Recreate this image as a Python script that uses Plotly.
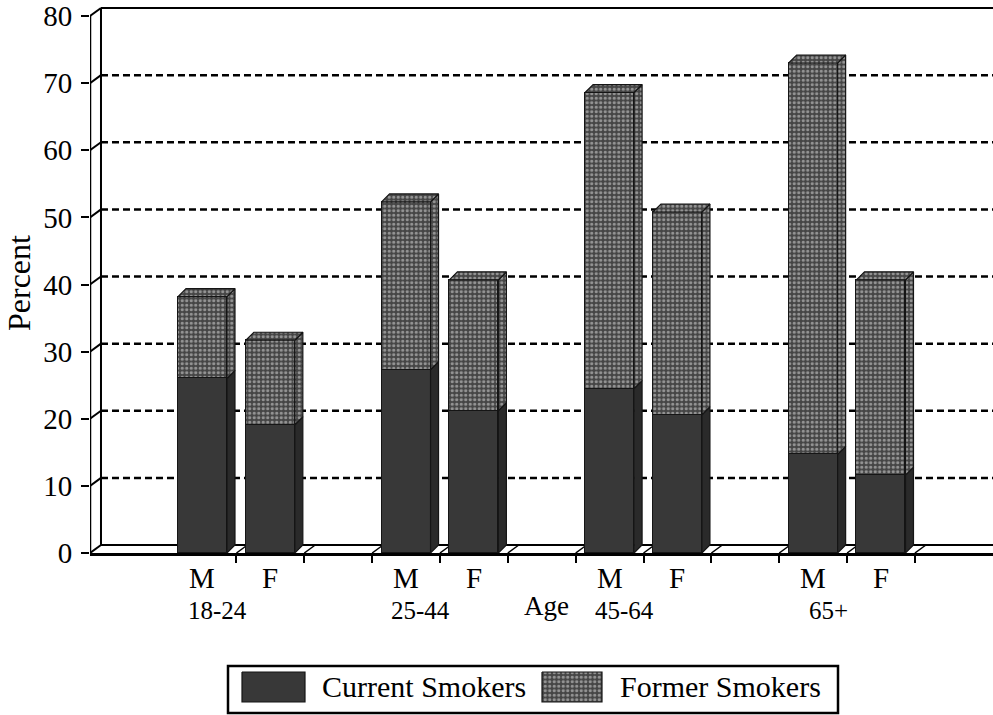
import plotly.graph_objects as go

# ---- data -------------------------------------------------------------
age_groups = ["18-24", "25-44", "45-64", "65+"]
sexes = ["M", "F"]
current_smokers = [26.0, 19.1, 27.3, 21.2, 24.5, 20.6, 14.7, 11.6]
former_smokers = [12.2, 12.6, 25.0, 19.5, 44.1, 30.2, 58.3, 29.1]
y_ticks = [0, 10, 20, 30, 40, 50, 60, 70, 80]
series_names = ["Current Smokers", "Former Smokers"]

# ---- geometry / style -------------------------------------------------
W, H = 993, 715
PX_L, PX_T, PX_B = 90, 6, 553          # plot area edges in pixels
SLOTS_PER_GROUP = 3                     # M, F, blank
X_RANGE = [-1.658, 11.651]
Y_RANGE = [0, 81.49]
BAR_W = 0.722
BAR_DX, BAR_DY = 0.118, 1.19            # bar depth (3-D offset)
WALL_DX, WALL_DY = 0.162, 1.19          # back wall offset
SERIF = "Liberation Serif"

CUR_COLOR = "#383838"
CUR_SIDE = "#2a2a2a"
FORM_BG = "#454545"
FORM_FG = "#e6e6e6"
EDGE = "#151515"
STIPPLE = dict(shape=".", fgcolor=FORM_FG, bgcolor=FORM_BG, size=4.5, solidity=0.4)

xpos = [SLOTS_PER_GROUP * g + s for g in range(len(age_groups)) for s in range(len(sexes))]
totals = [c + f for c, f in zip(current_smokers, former_smokers)]

fig = go.Figure()

# front faces of the stacked bars
fig.add_trace(go.Bar(
    x=xpos, y=current_smokers, width=BAR_W, name=series_names[0],
    marker=dict(color=CUR_COLOR, line=dict(color=EDGE, width=1.5)),
    showlegend=False, hoverinfo="skip"))
fig.add_trace(go.Bar(
    x=xpos, y=former_smokers, width=BAR_W, name=series_names[1],
    marker=dict(color=FORM_BG, line=dict(color=EDGE, width=1.5), pattern=STIPPLE),
    showlegend=False, hoverinfo="skip"))


def polys(quads):
    xs, ys = [], []
    for q in quads:
        for px, py in q + [q[0]]:
            xs.append(px)
            ys.append(py)
        xs.append(None)
        ys.append(None)
    return xs, ys


side_cur, side_form, tops = [], [], []
for x, c, t in zip(xpos, current_smokers, totals):
    xl, xr = x - BAR_W / 2, x + BAR_W / 2
    side_cur.append([(xr, 0), (xr + BAR_DX, BAR_DY), (xr + BAR_DX, c + BAR_DY), (xr, c)])
    side_form.append([(xr, c), (xr + BAR_DX, c + BAR_DY), (xr + BAR_DX, t + BAR_DY), (xr, t)])
    tops.append([(xl, t), (xl + BAR_DX, t + BAR_DY), (xr + BAR_DX, t + BAR_DY), (xr, t)])

sx, sy = polys(side_cur)
fig.add_trace(go.Scatter(x=sx, y=sy, mode="lines", fill="toself", fillcolor=CUR_SIDE,
                         line=dict(color=EDGE, width=1.2), showlegend=False, hoverinfo="skip"))
for quads in (side_form, tops):
    qx, qy = polys(quads)
    fig.add_trace(go.Scatter(
        x=qx, y=qy, mode="lines", fill="toself", fillcolor=FORM_BG, fillpattern=STIPPLE,
        line=dict(color=EDGE, width=1.2), showlegend=False, hoverinfo="skip"))

# ---- back wall, floor and gridlines ------------------------------------
x0, x1 = X_RANGE
shapes = []
line_k = dict(color="black", width=2)
wall_x = x0 + WALL_DX
top_v = y_ticks[-1]
shapes.append(dict(type="line", xref="x", yref="y", x0=x0, x1=x0, y0=0, y1=top_v,
                   line=dict(color="black", width=2.5), layer="below"))
shapes.append(dict(type="line", xref="x", yref="y", x0=wall_x, x1=wall_x,
                   y0=WALL_DY, y1=top_v + WALL_DY, line=line_k, layer="below"))
shapes.append(dict(type="line", xref="x", yref="y", x0=wall_x, x1=x1,
                   y0=top_v + WALL_DY, y1=top_v + WALL_DY, line=line_k, layer="below"))
shapes.append(dict(type="line", xref="x", yref="y", x0=wall_x, x1=x1,
                   y0=WALL_DY, y1=WALL_DY, line=line_k, layer="below"))
for v in y_ticks:
    shapes.append(dict(type="line", xref="x", yref="y", x0=x0, x1=wall_x,
                       y0=v, y1=v + WALL_DY, line=line_k, layer="below"))
for v in y_ticks[1:-1]:
    shapes.append(dict(type="line", xref="x", yref="y", x0=wall_x, x1=x1,
                       y0=v + WALL_DY, y1=v + WALL_DY,
                       line=dict(color="black", width=2.5, dash="7px,4px"), layer="below"))
x_ticks = [k + 0.5 for k in range(int(x1))]
for t in x_ticks:
    shapes.append(dict(type="line", xref="x", yref="y", x0=t, x1=t + WALL_DX,
                       y0=0, y1=WALL_DY, line=dict(color="black", width=1.5), layer="below"))

# legend frame
LEG = dict(l=228, r=838, t=666, b=713)
shapes.append(dict(type="rect", xref="paper", yref="paper",
                   x0=LEG["l"] / W, x1=LEG["r"] / W, y0=1 - LEG["b"] / H, y1=1 - LEG["t"] / H,
                   line=dict(color="black", width=2.5), fillcolor="rgba(0,0,0,0)"))

# legend swatches on a small pixel-scaled axis pair inside the frame
sw_cur = [(242, 672), (305, 672), (305, 702), (242, 702)]
sw_form = [(542, 672), (602, 672), (602, 702), (542, 702)]
for quad, name in ((sw_cur, series_names[0]), (sw_form, series_names[1])):
    qx, qy = polys([quad])
    kw = dict(fillcolor=CUR_COLOR)
    if name == series_names[1]:
        kw = dict(fillcolor=FORM_BG, fillpattern=STIPPLE)
    fig.add_trace(go.Scatter(x=qx, y=qy, xaxis="x2", yaxis="y2", mode="lines", fill="toself",
                             line=dict(color=EDGE, width=1.2), showlegend=False,
                             hoverinfo="skip", **kw))

# ---- text ---------------------------------------------------------------
def label(text, x, y, size, xref="paper", xanchor="center", **kw):
    return dict(x=x, xref=xref, y=y, yref="paper", text=text, showarrow=False,
                xanchor=xanchor, yanchor="middle",
                font=dict(family=SERIF, size=size, color="black"), **kw)


ann = []
for i, x in enumerate(xpos):
    ann.append(label(sexes[i % 2], x, 1 - 578 / H, 29, xref="x"))
for g, name in enumerate(age_groups):
    ann.append(label(name, SLOTS_PER_GROUP * g + 0.22, 1 - 610 / H, 25, xref="x"))
ann.append(label("Age", 546 / W, 1 - 606 / H, 27))
ann.append(label("Percent", 19 / W, 1 - 283 / H, 32, textangle=-90))
ann.append(label(series_names[0], 320 / W, 1 - 686 / H, 30, xanchor="left"))
ann.append(label(series_names[1], 618 / W, 1 - 686 / H, 30, xanchor="left"))

fig.update_layout(
    width=W, height=H,
    margin=dict(l=0, r=0, t=0, b=0, pad=0, autoexpand=False),
    paper_bgcolor="white", plot_bgcolor="white",
    barmode="stack", bargap=0,
    showlegend=False,
    shapes=shapes, annotations=ann,
    xaxis=dict(domain=[PX_L / W, 1.0], range=X_RANGE, showgrid=False, zeroline=False,
               showline=True, linecolor="black", linewidth=3,
               tickmode="array", tickvals=x_ticks, ticks="outside", ticklen=7,
               tickwidth=2, tickcolor="black", showticklabels=False, fixedrange=True),
    yaxis=dict(domain=[1 - PX_B / H, 1 - PX_T / H], range=Y_RANGE, showgrid=False,
               zeroline=False, showline=False, tickmode="array", tickvals=y_ticks,
               ticks="outside", ticklen=8, tickwidth=2, tickcolor="black",
               ticklabelstandoff=3, ticklabeloverflow="allow",
               tickfont=dict(family=SERIF, size=29, color="black"), fixedrange=True),
    xaxis2=dict(domain=[LEG["l"] / W, LEG["r"] / W], range=[LEG["l"], LEG["r"]],
                visible=False, anchor="y2", fixedrange=True),
    yaxis2=dict(domain=[1 - LEG["b"] / H, 1 - LEG["t"] / H], range=[LEG["b"], LEG["t"]],
                visible=False, anchor="x2", fixedrange=True),
)

fig.write_html("out.html")
